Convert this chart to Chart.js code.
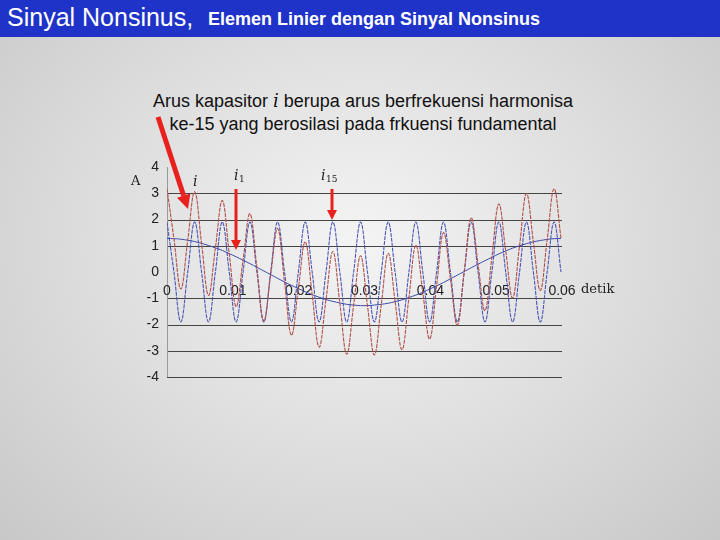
<!DOCTYPE html>
<html><head><meta charset="utf-8">
<script src="https://cdn.jsdelivr.net/npm/chart.js@4"></script>
<style>
body{margin:0;width:720px;height:540px;overflow:hidden;background:radial-gradient(ellipse at 50% 45%,#f4f4f4 0%,#dadada 60%,#c8c8c8 100%);font-family:"Liberation Sans",Arial,sans-serif;position:relative}
#bar{position:absolute;left:0;top:0;width:720px;height:37px;background:#1f33c9;color:#fff;white-space:nowrap}
#t1{position:absolute;left:7px;top:3px;font-size:25px}
#t2{position:absolute;left:208px;top:9px;font-size:18px;font-weight:bold}
#txt{position:absolute;left:0;width:726px;top:89px;text-align:center;font-size:18px;line-height:23px;color:#111}
canvas{position:absolute;left:0;top:0}
</style></head><body>
<div id="bar"><span id="t1">Sinyal Nonsinus,</span><span id="t2">Elemen Linier dengan Sinyal Nonsinus</span></div>
<div id="txt">Arus kapasitor <i style="font-family:'DejaVu Serif',serif">i</i> berupa arus berfrekuensi harmonisa<br>ke-15 yang berosilasi pada frkuensi fundamental</div>
<div style="position:absolute;left:0;top:0;width:720px;height:540px"><canvas id="c"></canvas></div>
<script>
const STEP = 0.00105;
const i15 = [1.9,0,-1.9,0,1.9,0,-1.9,0,1.9,0,-1.9,0,1.9,0,-1.9,0,1.9,0,-1.9,0,1.9,0,-1.9,0,1.9,0,-1.9,0,1.9,0,-1.9,0,1.9,0,-1.9,0,1.9,0,-1.9,0,1.9,0,-1.9,0,1.9,0,-1.9,0,1.9,0,-1.9,0,1.9,0,-1.9,0,1.9,0];
const i1 = [1.28,1.27,1.25,1.21,1.16,1.09,1.01,0.92,0.82,0.70,0.58,0.45,0.32,0.18,0.04,-0.10,-0.24,-0.38,-0.51,-0.63,-0.75,-0.86,-0.96,-1.05,-1.12,-1.18,-1.23,-1.26,-1.28,-1.28,-1.26,-1.23,-1.19,-1.13,-1.06,-0.97,-0.88,-0.77,-0.65,-0.53,-0.40,-0.26,-0.12,0.02,0.16,0.30,0.43,0.56,0.69,0.80,0.91,1.00,1.08,1.15,1.20,1.24,1.27,1.28];
const iTot = [3.18,1.27,-0.65,1.21,3.06,1.09,-0.89,0.92,2.72,0.70,-1.32,0.45,2.22,0.18,-1.86,-0.10,1.66,-0.38,-2.41,-0.63,1.15,-0.86,-2.86,-1.05,0.78,-1.18,-3.13,-1.26,0.62,-1.28,-3.16,-1.23,0.71,-1.13,-2.96,-0.97,1.02,-0.77,-2.55,-0.53,1.50,-0.26,-2.02,0.02,2.06,0.30,-1.47,0.56,2.59,0.80,-0.99,1.00,2.98,1.15,-0.70,1.24,3.17,1.28];
const xTicks = ["0","0.01","0.02","0.03","0.04","0.05","0.06"];
const yTicks = [4,3,2,1,0,-1,-2,-3,-4];
const gridVals = [3,2,1,-1,-2,-3,-4];
const pts = a => a.map((v,k)=>({x:k*STEP,y:v}));

const deco = {id:'deco',
 beforeDatasetsDraw(ch){
  const c=ch.ctx,x=ch.scales.x,y=ch.scales.y;
  c.save();
  c.strokeStyle='#444';c.lineWidth=1;
  gridVals.forEach(v=>{const p=Math.round(y.getPixelForValue(v))+0.5;c.beginPath();c.moveTo(x.getPixelForValue(0),p);c.lineTo(x.getPixelForValue(0.06),p);c.stroke();});
  c.strokeStyle='#999';c.beginPath();const x0=Math.round(x.getPixelForValue(0))+0.5;c.moveTo(x0,y.getPixelForValue(4));c.lineTo(x0,y.getPixelForValue(-4));c.stroke();
  c.fillStyle='#222';c.font='14px "Liberation Sans", Arial';c.textAlign='right';c.textBaseline='middle';
  yTicks.forEach(v=>c.fillText(String(v),x.getPixelForValue(0)-8,y.getPixelForValue(v)));
  c.textAlign='center';
  xTicks.forEach((t,k)=>c.fillText(t,x.getPixelForValue(k*0.01),y.getPixelForValue(-0.72)));
  c.restore();
 },
 afterDatasetsDraw(ch){
  const c=ch.ctx;
  c.save();
  c.font='13px "DejaVu Serif", serif';c.fillStyle='#222';c.textBaseline='alphabetic';c.textAlign='left';
  c.fillText('A',131,185);
  c.fillText('detik',581,293);
  c.font='italic 14px "DejaVu Serif", serif';
  c.fillText('i',193,186);c.fillText('i',234,180);c.fillText('i',321,180);
  c.font='9px "DejaVu Serif", serif';c.fillText('1',239,182);c.fillText('15',326,182);
  const arrow=(x1,y1,x2,y2,w,h)=>{
    const a=Math.atan2(y2-y1,x2-x1);
    c.strokeStyle='#e8211d';c.fillStyle='#e8211d';c.lineWidth=w;
    c.beginPath();c.moveTo(x1,y1);c.lineTo(x2-Math.cos(a)*h,y2-Math.sin(a)*h);c.stroke();
    c.beginPath();c.moveTo(x2,y2);
    c.lineTo(x2-Math.cos(a)*h+Math.sin(a)*h*0.5,y2-Math.sin(a)*h-Math.cos(a)*h*0.5);
    c.lineTo(x2-Math.cos(a)*h-Math.sin(a)*h*0.5,y2-Math.sin(a)*h+Math.cos(a)*h*0.5);
    c.closePath();c.fill();
  };
  arrow(158,117,188,209,5,14);
  arrow(236,189,236,250,3,10);
  arrow(332,189,332,220,3,10);
  c.restore();
 }};

new Chart(document.getElementById('c'),{
 type:'line',
 data:{datasets:[
  {data:pts(iTot),borderColor:'#b0504a',borderWidth:1.1,tension:0.4,pointRadius:0,borderDash:[4,1]},
  {data:pts(i15),borderColor:'#4a55b5',borderWidth:1.1,tension:0.4,pointRadius:0,borderDash:[4,1]},
  {data:pts(i1),borderColor:'#3c4aa8',borderWidth:1,tension:0.4,pointRadius:0}
 ]},
 options:{responsive:true,maintainAspectRatio:false,animation:false,
  layout:{padding:{left:167,right:158,top:167,bottom:163}},
  plugins:{legend:{display:false},tooltip:{enabled:false}},
  scales:{x:{type:'linear',min:0,max:0.06,display:false},y:{min:-4,max:4,display:false}}},
 plugins:[deco]
});
</script></body></html>
